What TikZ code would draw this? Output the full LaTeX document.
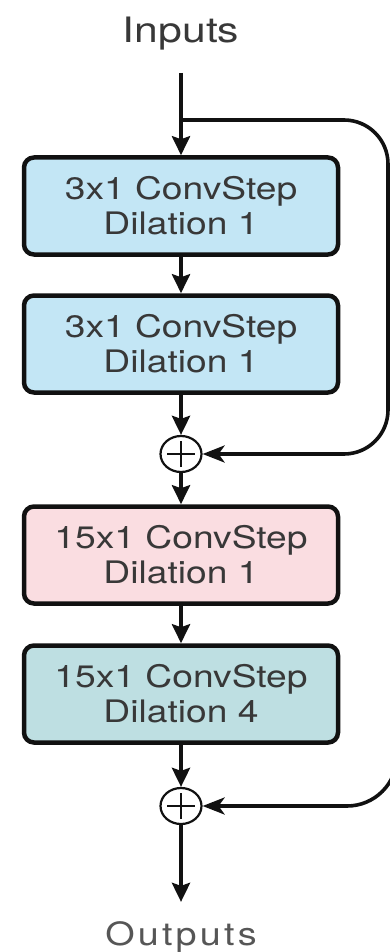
\documentclass[tikz,border=0pt]{standalone}
\usepackage{fontspec}
\setmainfont{TeX Gyre Heros}[FakeStretch=1.18]
\usetikzlibrary{arrows.meta,shapes.geometric}

\definecolor{inkline}{HTML}{111111}
\definecolor{inktext}{HTML}{383838}
\definecolor{blueconv}{HTML}{C3E6F5}
\definecolor{pinkconv}{HTML}{FADDE1}
\definecolor{tealconv}{HTML}{BEDFE2}

\tikzset{
  convbox/.style={draw=inkline, line width=4.5pt, rounded corners=10pt,
    minimum width=314pt, minimum height=97pt, inner sep=0pt, align=center,
    text=inktext, font=\fontsize{31}{35}\selectfont\addfontfeature{FakeStretch=1.2}},
  sumnode/.style={draw=inkline, ellipse, line width=2.2pt, fill=white,
    minimum width=41pt, minimum height=36pt, inner sep=0pt},
  plusline/.style={draw=inkline, line width=2.5pt},
  flow/.style={draw=inkline, line width=4.5pt,
    -{Stealth[length=19pt,width=18pt,inset=3pt]}},
  skipflow/.style={draw=inkline, line width=3.6pt, rounded corners=44pt,
    -{Stealth[length=22pt,width=17pt,inset=6pt]}},
  caption/.style={inner sep=0pt, anchor=base, text=inktext}
}

\begin{document}
\begin{tikzpicture}[x=1pt, y=-1pt]
  \useasboundingbox (0,0) rectangle (390,952);
  \clip (0,0) rectangle (390,952);

  % input and output labels
  \node[caption, font=\fontsize{35}{40}\selectfont\addfontfeature{FakeStretch=1.22}] (inp) at (181,43) {Inputs};
  \node[caption, text=inktext!85, font=\fontsize{32}{38}\selectfont\addfontfeature{LetterSpace=10}] (out) at (181,945) {Outputs};

  % convolution steps
  \node[convbox, fill=blueconv] (b1) at (181,206) {3x1 ConvStep\\Dilation 1};
  \node[convbox, fill=blueconv] (b2) at (181,344) {3x1 ConvStep\\Dilation 1};
  \node[convbox, fill=pinkconv] (b3) at (181,555) {15x1 ConvStep\\Dilation 1};
  \node[convbox, fill=tealconv] (b4) at (181,694) {15x1 ConvStep\\Dilation 4};

  % residual sums
  \node[sumnode] (s1) at (181,454) {};
  \node[sumnode] (s2) at (181,806) {};
  \foreach \s in {s1,s2} {
    \draw[plusline] ([xshift=-14pt]\s.center) -- ([xshift=14pt]\s.center);
    \draw[plusline] ([yshift=-13pt]\s.center) -- ([yshift=13pt]\s.center);
  }

  % helper points for the skip paths
  \coordinate (instart) at (181,73);
  \coordinate (tap) at (181,120);
  \coordinate (rail) at (388,0);
  \coordinate (farrail) at (397,600);

  % main chain
  \draw[flow] (instart) -- (b1.north);
  \draw[flow] (b1.south) -- (b2.north);
  \draw[flow] (b2.south) -- (s1.north);
  \draw[flow] (s1.south) -- (b3.north);
  \draw[flow] (b3.south) -- (b4.north);
  \draw[flow] (b4.south) -- (s2.north);
  \draw[flow] (s2.south) -- ([yshift=19pt]out.north);

  % skip connections
  \draw[skipflow] (tap) -- (tap -| rail) -- (rail |- s1) -- (s1.east);
  \draw[skipflow, rounded corners=50pt] (farrail) -- (farrail |- s2) -- (s2.east);
\end{tikzpicture}
\end{document}
